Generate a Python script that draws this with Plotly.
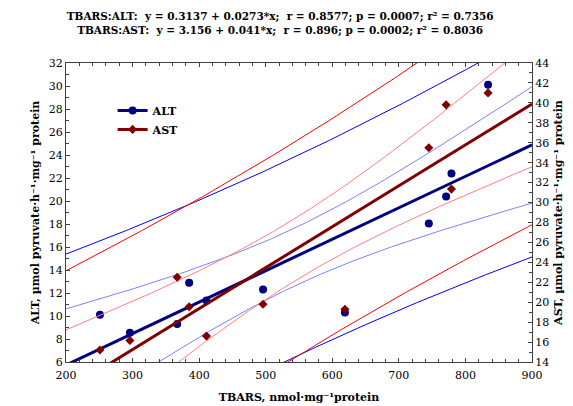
"""TBARS vs ALT / AST - scatter with fit, confidence and prediction bands"""
import numpy as np
import plotly.graph_objs as go

# TBARS, nmol/mg protein
tbars = [251, 296, 367, 385, 411, 496, 619, 745, 771, 779, 834]
# ALT, umol pyruvate/h/mg protein (left axis)
alt = [10.1, 8.55, 9.3, 12.9, 11.35, 12.3, 10.3, 18.05, 20.4, 22.4, 30.1]
# AST, umol pyruvate/h/mg protein (right axis)
ast = [15.2, 16.15, 22.5, 19.55, 16.6, 19.8, 19.3, 35.5, 39.8, 31.35, 41.0]

T975 = 2.262  # Student t, 0.975, df = 9
FONT = "DejaVu Serif"


def bands(x, y, grid):
    x = np.asarray(x, float)
    y = np.asarray(y, float)
    n = len(x)
    b, a = np.polyfit(x, y, 1)
    s = np.sqrt(np.sum((y - (a + b * x)) ** 2) / (n - 2))
    sxx = np.sum((x - x.mean()) ** 2)
    fit = a + b * grid
    h = 1 / n + (grid - x.mean()) ** 2 / sxx
    ci = T975 * s * np.sqrt(h)
    pi = T975 * s * np.sqrt(1 + h)
    return fit, ci, pi


grid = np.linspace(200, 900, 300)
fig = go.Figure()

series = [
    ("ALT", alt, "y", "#000080", "#8080ff", "#0000ff", "circle", 8),
    ("AST", ast, "y2", "#800000", "#ff8080", "#ff0000", "diamond", 7),
]

for name, vals, yax, dark, light, bright, sym, msize in series:
    fit, ci, pi = bands(tbars, vals, grid)
    for curve, col in [(fit + pi, bright), (fit - pi, bright),
                       (fit + ci, light), (fit - ci, light)]:
        fig.add_trace(go.Scatter(x=grid, y=curve, yaxis=yax, mode="lines",
                                 line=dict(color=col, width=1), showlegend=False,
                                 hoverinfo="skip"))
    fig.add_trace(go.Scatter(x=grid, y=fit, yaxis=yax, mode="lines",
                             line=dict(color=dark, width=3), showlegend=False))
    fig.add_trace(go.Scatter(x=tbars, y=vals, yaxis=yax, mode="markers",
                             marker=dict(color=dark, size=msize, symbol=sym),
                             showlegend=False, name=name))
    # legend entry
    fig.add_trace(go.Scatter(x=[None], y=[None], yaxis=yax, mode="lines+markers",
                             line=dict(color=dark, width=3),
                             marker=dict(color=dark, size=msize, symbol=sym),
                             name=name))

axis_common = dict(
    showline=True, linecolor="#404040", linewidth=1, ticks="inside",
    ticklen=4, tickcolor="#404040", showgrid=False, zeroline=False,
    tickfont=dict(family=FONT, size=11, color="black"),
)

fig.update_layout(
    width=573, height=406,
    margin=dict(l=58, r=49, t=55, b=45),
    plot_bgcolor="white", paper_bgcolor="white",
    font=dict(family=FONT, size=11, color="black"),
    title=dict(
        text="<b>TBARS:ALT:  y = 0.3137 + 0.0273*x;  r = 0.8577; p = 0.0007; r² = 0.7356"
             "<br>TBARS:AST:  y = 3.156 + 0.041*x;  r = 0.896; p = 0.0002; r² = 0.8036</b>",
        x=0.475, xanchor="center", yref="container", y=0.97, yanchor="middle",
        font=dict(family=FONT, size=10.5),
    ),
    xaxis=dict(
        range=[200, 900], dtick=100, mirror="ticks", ticklabelstandoff=3,
        minor=dict(dtick=20, ticks="inside", ticklen=3, tickcolor="#404040"),
        title=dict(text="<b>TBARS, nmol·mg⁻¹protein</b>", standoff=12,
                   font=dict(family=FONT, size=11)),
        **axis_common,
    ),
    yaxis=dict(
        range=[6, 32], dtick=2,
        minor=dict(dtick=1, ticks="inside", ticklen=3, tickcolor="#404040"),
        title=dict(text="<b>ALT, µmol pyruvate·h⁻¹·mg⁻¹ protein</b>", standoff=6,
                   font=dict(family=FONT, size=11)),
        **axis_common,
    ),
    yaxis2=dict(
        range=[14, 44], dtick=2, overlaying="y", side="right",
        minor=dict(dtick=1, ticks="inside", ticklen=3, tickcolor="#404040"),
        title=dict(text="<b>AST, µmol pyruvate·h⁻¹·mg⁻¹ protein</b>", standoff=6,
                   font=dict(family=FONT, size=11)),
        **axis_common,
    ),
    legend=dict(x=0.1, y=0.89, xanchor="left", yanchor="top",
                bgcolor="rgba(0,0,0,0)", tracegroupgap=0,
                font=dict(family=FONT, size=11, weight="bold")),
)

fig.write_html("out.html")
